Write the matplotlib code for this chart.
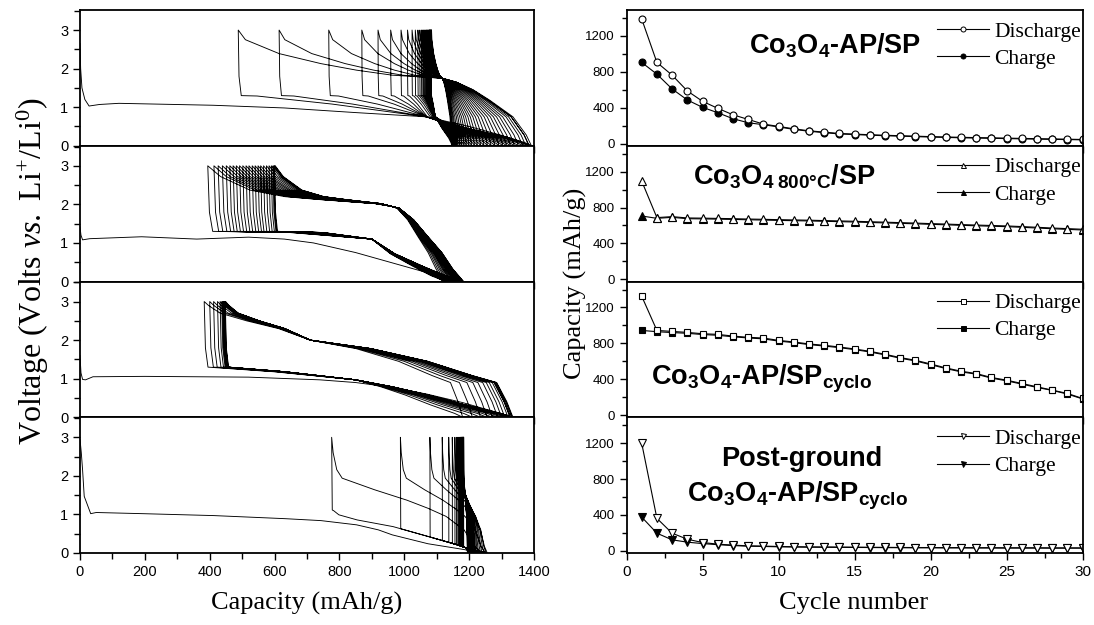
import numpy as np
import matplotlib
matplotlib.use("Agg")
import matplotlib.pyplot as plt
from matplotlib.lines import Line2D
from matplotlib.ticker import MultipleLocator

plt.rcParams.update({
    "font.family": "Liberation Sans",
    "mathtext.fontset": "custom",
    "mathtext.rm": "Liberation Serif",
    "mathtext.it": "Liberation Serif:italic",
    "mathtext.bf": "Liberation Sans:bold",
    "mathtext.default": "regular",
})
SERIF = "Liberation Serif"

# ---------------------------------------------------------------- cycling data
cycles = np.arange(1, 31)

ap_discharge = [1390, 905, 763, 587, 471, 393, 321, 269, 217, 191, 164, 142, 127, 112, 105,
                98, 92, 87, 82, 77, 73, 69, 66, 63, 60, 57, 54, 51, 48, 45]
ap_charge = [905, 774, 609, 486, 404, 344, 277, 232, 210, 185, 158, 137, 121, 107, 100,
             93, 87, 82, 77, 72, 68, 64, 61, 58, 55, 52, 49, 46, 44, 41]

t800_discharge = [1096, 688, 699, 684, 682, 679, 676, 672, 669, 665, 662, 659, 655, 651, 647,
                  642, 637, 632, 627, 621, 616, 610, 605, 600, 595, 588, 580, 572, 565, 558]
t800_charge = [706, 680, 691, 676, 674, 671, 668, 664, 661, 657, 654, 651, 647, 643, 639,
               634, 629, 624, 619, 613, 608, 602, 597, 592, 587, 580, 572, 564, 557, 550]

cyclo_discharge = [1326, 944, 933, 922, 907, 900, 881, 867, 859, 833, 815, 793, 778, 759, 737,
                   711, 678, 641, 611, 570, 526, 489, 463, 419, 389, 352, 315, 278, 241, 185]
cyclo_charge = [944, 930, 920, 912, 898, 890, 873, 860, 850, 825, 808, 786, 770, 752, 730,
                704, 671, 634, 604, 562, 519, 482, 456, 412, 382, 345, 308, 275, 234, 180]

ground_discharge = [1200, 362, 196, 129, 92, 74, 63, 55, 52, 48, 45, 43, 42, 41, 40,
                    39, 38, 37, 36, 36, 35, 35, 34, 34, 33, 33, 33, 32, 32, 32]
ground_charge = [376, 196, 122, 96, 80, 68, 58, 51, 48, 44, 42, 40, 39, 38, 37,
                 36, 35, 34, 33, 33, 32, 32, 31, 31, 30, 30, 30, 29, 29, 29]

# ------------------------------------------------------- voltage profile data
# Co3O4-AP/SP
ap_first_cap = [0, 2, 6, 15, 28, 60, 120, 410, 630, 850, 1068, 1200, 1300, 1360, 1385]
ap_first_v = [2.65, 2.0, 1.5, 1.2, 1.03, 1.07, 1.1, 1.05, 0.98, 0.86, 0.75, 0.5, 0.27, 0.1, 0.0]
ap_top = [488, 614, 767, 869, 919, 958, 990, 1010, 1024, 1034, 1042, 1048, 1053, 1057, 1060,
          1063, 1066, 1068, 1070, 1072, 1074, 1076, 1077, 1078, 1079, 1080, 1081, 1082, 1083, 1084]
ap_bottom = [1385, 1392, 1385, 1375, 1365, 1352, 1340, 1328, 1316, 1304, 1292, 1280, 1268, 1257,
             1246, 1236, 1226, 1217, 1208, 1200, 1192, 1185, 1178, 1172, 1166, 1161, 1157, 1153,
             1150, 1147]
ap_dis = (1068, [0, 0.004, 0.016, 0.1, 0.5, 1.0], [3.0, 1.8, 1.3, 1.29, 1.08, 0.75],
          [0, 0.4, 0.8, 0.95, 1.0], [0.75, 0.45, 0.2, 0.07, 0.0])
ap_chg = (1117, [0, 0.058, 0.207, 0.467, 0.652, 0.84, 1.0], [0.0, 0.28, 0.75, 1.18, 1.45, 1.65, 1.75],
          [0, 0.245, 0.42, 0.595, 0.8, 0.965, 1.0], [1.75, 1.83, 1.96, 2.13, 2.39, 2.75, 3.0])

# Co3O4 800C/SP
t800_first_cap = [0, 3, 8, 30, 190, 360, 520, 630, 720, 850, 960, 1070, 1110, 1122]
t800_first_v = [1.42, 1.2, 1.08, 1.11, 1.16, 1.1, 1.15, 1.1, 1.0, 0.75, 0.49, 0.23, 0.06, 0.0]
t800_top = [394, 413, 426, 439, 451, 462, 472, 482, 492, 502, 512, 521, 531, 540, 549,
            557, 566, 575, 583, 590, 595, 598, 600, 602]
t800_bottom = [1122, 1128, 1134, 1139, 1144, 1148, 1152, 1156, 1159, 1162, 1165, 1167, 1169,
               1171, 1173, 1175, 1176, 1177, 1178, 1179, 1180, 1181, 1182, 1183]
t800_dis = (900, [0, 0.01, 0.03, 0.5, 1.0], [3.0, 1.8, 1.3, 1.27, 1.1],
            [0, 0.25, 0.55, 0.8, 1.0], [1.1, 0.72, 0.4, 0.15, 0.0])
t800_chg = (960, [0, 0.147, 0.3, 0.496, 0.69, 0.89, 1.0], [0.0, 0.32, 0.75, 1.17, 1.6, 1.9, 1.95],
            [0, 0.09, 0.38, 0.58, 0.77, 0.93, 1.0], [1.95, 2.02, 2.12, 2.2, 2.37, 2.72, 3.0])

# Co3O4-AP/SP cyclo
cyclo_first_cap = [0, 3, 8, 17, 40, 200, 520, 740, 850, 960, 1070, 1180, 1280, 1326]
cyclo_first_v = [1.6, 1.15, 0.98, 0.97, 1.05, 1.06, 1.04, 0.97, 0.9, 0.78, 0.6, 0.38, 0.14, 0.0]
cyclo_top = [383, 400, 412, 424, 432, 437, 440, 442, 443, 444, 445, 446, 447, 448, 449]
cyclo_bottom = [1326, 1327, 1333, 1335, 1332, 1328, 1320, 1310, 1300, 1288, 1272, 1255,
                1235, 1210, 1180]
cyclo_dis = (850, [0, 0.008, 0.025, 0.46, 1.0], [3.0, 1.8, 1.3, 1.18, 0.97],
             [0, 0.235, 0.46, 0.7, 0.925, 1.0], [0.97, 0.79, 0.58, 0.32, 0.1, 0.0])
cyclo_chg = (710, [0, 0.03, 0.08, 0.2, 0.42, 0.7, 1.0], [0.0, 0.4, 0.9, 1.08, 1.45, 1.78, 2.0],
             [0, 0.3, 0.6, 0.85, 0.96, 1.0], [2.0, 2.3, 2.5, 2.7, 2.9, 3.0])

# Post-ground Co3O4-AP/SP cyclo
ground_first_cap = [0, 4, 8, 13, 33, 50, 193, 413, 633, 743, 853, 920, 963, 1073, 1184, 1240]
ground_first_v = [2.95, 2.6, 2.15, 1.47, 1.02, 1.05, 1.02, 0.97, 0.89, 0.84, 0.73, 0.6, 0.47,
                  0.24, 0.09, 0.0]
ground_top = [776, 988, 1079, 1117, 1137, 1148, 1156, 1161, 1165, 1168, 1170, 1172, 1173, 1174,
              1175, 1176, 1177, 1177, 1178, 1178, 1179, 1179, 1180, 1180, 1181, 1181, 1182,
              1182, 1183, 1183]
ground_bottom = [1240, 1250, 1256, 1252, 1246, 1240, 1235, 1230, 1226, 1222, 1219, 1216, 1213,
                 1211, 1209, 1207, 1205, 1204, 1203, 1202, 1201, 1200, 1199, 1198, 1197, 1197,
                 1196, 1196, 1195, 1195]
ground_dis = (None, [0, 0.008, 0.024, 0.094, 0.332, 0.8, 1.0], [3.0, 2.0, 1.15, 0.99, 0.86, 0.69, 0.58],
              [0, 0.28, 0.66, 0.85, 1.0], [0.58, 0.43, 0.22, 0.09, 0.0])
ground_chg = (None, [0, 0.1, 0.24, 0.48, 0.72, 0.96, 1.0], [0.0, 0.17, 0.6, 0.95, 1.16, 1.34, 1.37],
              [0, 0.43, 0.86, 0.932, 0.98, 1.0], [1.37, 1.64, 1.94, 2.16, 2.6, 3.0])
ground_env_cap = [776, 853, 963, 1073, 1161, 1205, 1260]
ground_env_v = [1.12, 0.86, 0.69, 0.43, 0.22, 0.09, 0.0]


def branch(x_from, x_to, pivot, fa, va, fb, vb):
    """One charge or discharge branch, bent through a crossing point."""
    span = x_to - x_from
    if pivot is None:
        xp = x_from + 0.5 * span
    else:
        lo, hi = sorted((x_from + 0.2 * span, x_to - 0.1 * span))
        xp = min(max(pivot, lo), hi)
    xa = x_from + np.asarray(fa) * (xp - x_from)
    xb = xp + np.asarray(fb) * (x_to - xp)
    return (np.concatenate([xa, xb[1:]]),
            np.concatenate([np.asarray(va, float), np.asarray(vb, float)[1:]]))


def trace(first_cap, first_v, tops, bottoms, dis, chg, env=None):
    xs, vs = [np.asarray(first_cap, float)], [np.asarray(first_v, float)]
    for n, top in enumerate(tops):
        x, v = branch(bottoms[n], top, *chg)
        xs.append(x)
        vs.append(v)
        if n + 1 < len(bottoms):
            x, v = branch(top, bottoms[n + 1], *dis)
            if env is not None:
                v[1:] = np.minimum(v[1:], np.interp(x[1:], *env))
            xs.append(x)
            vs.append(v)
    return np.concatenate(xs), np.concatenate(vs)


left_data = [
    (ap_first_cap, ap_first_v, ap_top, ap_bottom, ap_dis, ap_chg, None),
    (t800_first_cap, t800_first_v, t800_top, t800_bottom, t800_dis, t800_chg, None),
    (cyclo_first_cap, cyclo_first_v, cyclo_top, cyclo_bottom, cyclo_dis, cyclo_chg, None),
    (ground_first_cap, ground_first_v, ground_top, ground_bottom, ground_dis, ground_chg,
     (ground_env_cap, ground_env_v)),
]

right_data = [
    (ap_discharge, ap_charge, "o", 5.0),
    (t800_discharge, t800_charge, "^", 5.5),
    (cyclo_discharge, cyclo_charge, "s", 4.6),
    (ground_discharge, ground_charge, "v", 5.5),
]

# ---------------------------------------------------------------- figure
W, H = 1094, 625
fig = plt.figure(figsize=(W / 100, H / 100), dpi=100)

top_px, panel_px = 10, 135.75
left_x0, left_w = 80, 454
right_x0, right_w = 626.5, 456

left_axes, right_axes = [], []
for i in range(4):
    bottom = (H - (top_px + (i + 1) * panel_px)) / H
    h = panel_px / H
    left_axes.append(fig.add_axes([left_x0 / W, bottom, left_w / W, h]))
    right_axes.append(fig.add_axes([right_x0 / W, bottom, right_w / W, h]))

for i, (ax, d) in enumerate(zip(left_axes, left_data)):
    x, v = trace(*d)
    ax.plot(x, v, color="black", lw=0.65)
    ax.set_xlim(0, 1400)
    ax.set_ylim(0, 3.52)
    ax.xaxis.set_major_locator(MultipleLocator(200))
    ax.xaxis.set_minor_locator(MultipleLocator(100))
    ax.yaxis.set_major_locator(MultipleLocator(1))
    ax.yaxis.set_minor_locator(MultipleLocator(0.5))
    ax.tick_params(which="both", direction="out", width=1.0, labelsize=10.5)
    ax.tick_params(which="major", length=5)
    ax.tick_params(which="minor", length=4)
    if i < 3:
        ax.tick_params(axis="x", labelbottom=False)

for i, (ax, (dis, chg, mk, ms)) in enumerate(zip(right_axes, right_data)):
    ax.plot(cycles, chg, color="black", lw=0.8, marker=mk, ms=ms, mfc="black", mec="black", mew=0.8)
    ax.plot(cycles, dis, color="black", lw=0.8, marker=mk, ms=ms, mfc="white", mec="black", mew=0.8)
    ax.set_xlim(0, 30)
    ax.set_ylim(-25, 1490)
    ax.xaxis.set_major_locator(MultipleLocator(5))
    ax.xaxis.set_minor_locator(MultipleLocator(2.5))
    ax.yaxis.set_major_locator(MultipleLocator(400))
    ax.yaxis.set_minor_locator(MultipleLocator(200))
    ax.tick_params(which="both", direction="out", width=1.0)
    ax.tick_params(which="major", length=5)
    ax.tick_params(which="minor", length=3.5)
    ax.tick_params(axis="y", labelsize=9.5)
    ax.tick_params(axis="x", labelsize=11)
    if i < 3:
        ax.tick_params(axis="x", labelbottom=False)
    handles = [
        Line2D([], [], color="black", lw=0.8, marker=mk, ms=3.6, mfc="white", mec="black", mew=0.7),
        Line2D([], [], color="black", lw=0.8, marker=mk, ms=3.6, mfc="black", mec="black", mew=0.7),
    ]
    ax.legend(handles, ["Discharge", "Charge"], loc="upper right", bbox_to_anchor=(1.015, 0.978),
              frameon=False, prop={"family": SERIF, "size": 15.5}, handlelength=2.4,
              handletextpad=0.25, borderaxespad=0.1, labelspacing=0.33, borderpad=0.3)

for ax in left_axes + right_axes:
    for s in ax.spines.values():
        s.set_linewidth(1.3)

bold = dict(fontfamily="Liberation Sans", fontweight="bold", fontsize=19.5,
            ha="center", va="center")
right_axes[0].text(0.457, 0.74, r"Co$_3$O$_4$-AP/SP", transform=right_axes[0].transAxes, **bold)
right_axes[1].text(0.347, 0.77, r"Co$_3$O$_{4\ 800°C}$/SP", transform=right_axes[1].transAxes, **bold)
right_axes[2].text(0.297, 0.28, r"Co$_3$O$_4$-AP/SP$_{cyclo}$", transform=right_axes[2].transAxes, **bold)
right_axes[3].text(0.385, 0.69, "Post-ground", transform=right_axes[3].transAxes, **bold)
right_axes[3].text(0.376, 0.42, r"Co$_3$O$_4$-AP/SP$_{cyclo}$", transform=right_axes[3].transAxes, **bold)

label_kw = dict(fontfamily=SERIF, fontsize=19, ha="center", va="center")
fig.text(33 / W, 1 - 271 / H, r"Voltage (Volts $\mathit{vs.}$ Li$^{+}$/Li$^{0}$)",
         rotation=90, fontfamily=SERIF, fontsize=23, ha="center", va="center")
fig.text(575 / W, 1 - 283 / H, "Capacity (mAh/g)", rotation=90, **label_kw)
fig.text(307 / W, 1 - 603 / H, "Capacity (mAh/g)", **label_kw)
fig.text(854 / W, 1 - 603 / H, "Cycle number", **label_kw)

fig.savefig("out.png", dpi=100)
